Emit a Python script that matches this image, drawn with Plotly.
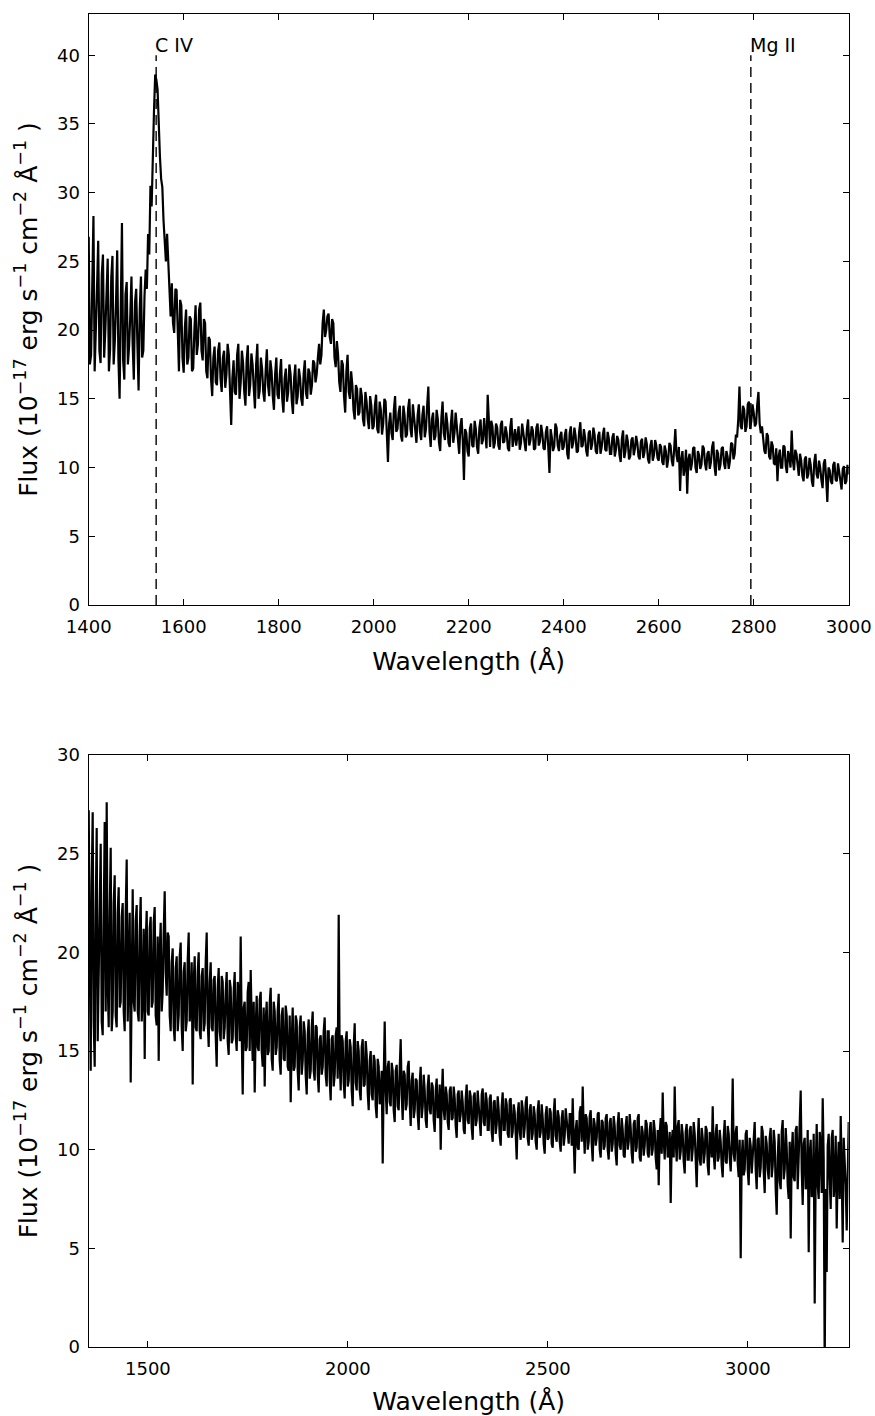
import numpy as np
import plotly.graph_objects as go

# ---------------- data ----------------
# Upper spectrum: flux sampled every 5 A from 1400 A (TOP_FLUX) and the
# samples lying half-way between them (TOP_FLUX_MID).
TOP_WAVE_START = 1400
TOP_WAVE_STEP = 2.5
TOP_FLUX = [
    26.8, 18.2, 28.3, 19.5, 26.5, 17.6, 25.5, 20.0, 25.2, 18.6, 25.4, 19.2, 25.8, 15.0, 27.8, 16.4, 23.5, 18.8, 23.9, 16.4,
    23.0, 15.6, 23.9, 18.5, 24.4, 27.0, 30.5, 33.8, 38.6, 37.5, 32.6, 30.4, 26.5, 27.0, 23.2, 23.4, 19.8, 22.9, 17.0, 21.8,
    16.9, 21.5, 18.0, 20.8, 17.2, 21.8, 19.0, 22.0, 17.8, 20.5, 16.5, 19.3, 15.2, 18.8, 16.0, 19.1, 15.5, 18.5, 16.8, 18.2,
    13.1, 17.8, 15.3, 19.0, 16.2, 17.6, 14.5, 18.9, 16.0, 17.5, 14.3, 19.0, 15.6, 17.2, 14.8, 18.6, 15.2, 17.0, 14.2, 18.0,
    15.0, 17.9, 14.0, 17.2, 15.5, 16.8, 13.9, 17.5, 15.2, 16.5, 14.5, 17.8, 15.0, 16.9, 16.0, 17.6, 16.8, 19.0, 18.2, 21.5,
    20.0, 21.2, 19.0, 20.5, 17.3, 18.2, 15.5, 17.5, 14.0, 18.2, 15.0, 16.0, 13.5, 15.7, 14.0, 15.2, 13.0, 14.8, 12.8, 14.5,
    13.0, 15.3, 12.5, 14.2, 13.2, 14.8, 10.4, 14.0, 12.0, 15.2, 12.8, 14.5, 11.9, 13.8, 12.4, 15.0, 12.2, 13.6, 11.8, 14.6,
    12.0, 14.5, 12.8, 15.9, 11.5, 14.0, 12.3, 13.5, 11.2, 14.8, 12.0, 13.2, 11.5, 14.2, 12.5, 13.0, 11.0, 13.6, 9.1, 12.5,
    10.8, 13.2, 11.5, 12.8, 11.0, 13.5, 12.0, 12.6, 15.3, 11.5, 13.0, 11.8, 12.9, 11.3, 13.4, 11.9, 12.5, 11.2, 13.6, 12.0,
    11.6, 13.0, 11.8, 12.4, 11.2, 13.5, 12.0, 12.7, 11.4, 13.2, 11.9, 12.5, 11.3, 13.0, 9.6, 12.2, 11.5, 12.9, 11.2, 12.6,
    11.5, 12.8, 10.6, 13.0, 11.8, 12.3, 11.2, 13.3, 11.6, 12.2, 10.8, 12.7, 11.7, 12.4, 11.0, 12.6, 11.5, 12.9, 11.2, 12.1,
    11.0, 12.5, 11.3, 12.0, 10.4, 12.7, 11.2, 11.9, 10.8, 12.2, 11.4, 11.8, 10.6, 12.1, 11.1, 11.7, 10.3, 12.0, 10.9, 11.6,
    10.5, 11.5, 10.2, 11.2, 10.6, 11.6, 10.1, 12.8, 10.4, 8.3, 11.2, 10.0, 8.1, 11.0, 10.3, 11.5, 9.6, 10.9, 10.2, 11.4,
    9.8, 11.2, 10.4, 11.9, 9.4, 11.0, 10.2, 11.5, 9.9, 10.8, 10.5, 11.7, 11.0, 12.2, 15.9, 12.8, 14.2, 13.0, 14.8, 13.4,
    14.0, 13.2, 15.5, 12.5, 12.0, 11.0, 12.3, 10.6, 11.6, 10.2, 9.0, 11.3, 10.0, 11.5, 9.6, 10.8, 12.7, 9.8, 11.0, 9.4,
    10.5, 9.0, 10.8, 9.5, 10.2, 8.6, 11.0, 9.2, 10.0, 8.5, 10.6, 7.5, 9.8, 8.8, 10.4, 9.0, 9.6, 8.4, 10.1, 9.0,
    9.5,
]
TOP_FLUX_MID = [
    17.5, 24.5, 17.0, 23.0, 18.5, 24.0, 18.0, 22.5, 17.0, 23.8, 17.5, 22.0, 18.0, 21.5, 17.8, 22.6, 17.5, 21.0, 19.0, 22.0,
    19.0, 21.5, 18.0, 22.5, 23.0, 25.5, 29.0, 36.0, 38.2, 34.5, 31.0, 28.0, 25.0, 24.5, 21.0, 20.5, 23.0, 19.0, 22.2, 18.0,
    20.2, 17.5, 21.0, 17.0, 20.0, 18.2, 21.5, 18.5, 20.8, 17.0, 19.5, 16.5, 18.0, 16.2, 18.5, 16.5, 18.0, 15.8, 19.0, 15.6,
    16.5, 15.5, 18.2, 15.0, 18.5, 15.5, 17.8, 15.2, 18.3, 15.8, 17.5, 15.0, 18.0, 15.5, 17.0, 16.0, 17.8, 15.2, 16.8, 15.3,
    16.8, 15.0, 16.5, 14.8, 17.5, 14.9, 16.5, 14.6, 17.2, 15.0, 16.8, 15.4, 17.2, 15.3, 17.8, 16.2, 18.0, 17.5, 20.5, 19.5,
    21.0, 19.5, 20.8, 18.0, 19.2, 16.2, 17.8, 15.2, 17.0, 15.5, 17.0, 14.2, 16.0, 13.8, 15.8, 13.5, 15.5, 13.5, 15.2, 12.8,
    14.5, 12.8, 14.8, 12.4, 15.0, 12.6, 13.2, 12.5, 14.2, 12.6, 14.0, 12.3, 14.5, 12.2, 14.3, 12.8, 14.6, 12.5, 13.8, 12.6,
    13.8, 12.2, 14.5, 12.6, 13.5, 12.0, 14.2, 11.8, 13.6, 12.5, 14.0, 11.8, 13.2, 11.8, 14.0, 11.6, 13.0, 12.0, 12.8, 11.2,
    12.8, 11.6, 13.4, 11.5, 12.9, 11.7, 13.6, 11.4, 12.8, 13.4, 11.4, 13.2, 11.6, 13.1, 11.8, 13.0, 11.4, 12.9, 11.5, 12.8,
    12.6, 11.3, 13.2, 11.5, 12.8, 11.6, 13.0, 11.3, 12.9, 11.6, 13.1, 11.4, 12.6, 11.5, 12.8, 11.2, 13.2, 11.6, 12.3, 11.3,
    12.4, 11.0, 12.5, 11.4, 12.9, 11.1, 12.6, 11.5, 12.8, 11.2, 12.5, 11.3, 12.9, 11.2, 12.3, 11.0, 12.4, 11.3, 12.6, 11.0,
    12.2, 10.8, 12.3, 10.9, 12.1, 10.7, 12.4, 10.6, 12.0, 10.9, 12.3, 10.8, 11.9, 10.7, 12.2, 10.6, 11.6, 10.5, 12.0, 10.7,
    11.7, 10.4, 11.6, 10.0, 11.8, 10.5, 11.3, 10.9, 11.5, 10.6, 9.4, 11.3, 10.6, 9.8, 11.4, 10.0, 11.2, 9.9, 11.6, 10.3,
    11.0, 9.9, 11.5, 10.1, 11.3, 9.8, 11.4, 10.3, 11.2, 9.9, 11.8, 10.6, 12.4, 13.5, 13.0, 14.5, 12.6, 14.6, 12.8, 14.6,
    13.0, 14.6, 13.2, 13.0, 11.2, 12.5, 10.8, 11.9, 10.3, 11.4, 10.8, 10.0, 11.6, 10.1, 11.2, 10.0, 10.5, 11.3, 9.9, 11.0,
    9.4, 10.6, 9.2, 10.7, 9.0, 10.4, 9.5, 10.5, 9.1, 10.3, 9.2, 10.0, 9.0, 10.2, 9.1, 10.3, 9.0, 9.9, 8.8, 10.2,
]

# Lower spectrum: flux every 5 A from 1352 A (BOT_FLUX) plus half-way samples.
BOT_WAVE_START = 1352
BOT_WAVE_STEP = 2.5
BOT_FLUX = [
    27.2, 14.0, 27.1, 14.2, 26.3, 19.0, 25.5, 15.8, 26.6, 27.6, 16.2, 25.3, 17.0, 23.9, 16.2, 23.3, 17.5, 22.5, 16.0, 24.7,
    18.5, 13.4, 23.2, 17.0, 22.4, 16.5, 22.8, 17.8, 14.6, 22.1, 16.8, 21.8, 17.5, 22.3, 16.3, 14.5, 21.5, 18.0, 23.1, 17.8,
    20.8, 16.0, 20.2, 15.5, 19.8, 16.8, 20.5, 15.0, 19.5, 16.5, 21.0, 17.2, 13.3, 19.8, 16.0, 20.0, 15.6, 19.2, 16.4, 21.0,
    15.2, 19.5, 16.0, 18.8, 14.2, 19.2, 15.5, 18.5, 16.2, 19.0, 14.8, 18.2, 15.6, 19.0, 15.0, 18.0, 20.8, 12.8, 17.5, 15.2,
    18.5, 19.1, 14.5, 12.9, 17.8, 15.0, 18.0, 14.2, 13.2, 17.5, 15.0, 18.2, 14.0, 17.0, 15.2, 17.9, 13.8, 17.2, 14.5, 16.8,
    14.0, 12.4, 17.2, 14.2, 16.5, 13.0, 16.8, 14.5, 16.0, 12.8, 16.6, 14.0, 17.0, 13.5, 16.2, 12.9, 15.8, 14.2, 16.7, 13.2,
    16.0, 12.5, 15.8, 13.8, 16.2, 21.9, 13.0, 15.5, 12.6, 16.0, 13.5, 15.2, 12.2, 16.4, 13.0, 15.0, 12.5, 15.6, 13.3, 14.8,
    12.0, 15.0, 12.5, 14.5, 11.6, 14.2, 12.8, 9.3, 16.5, 11.8, 14.5, 12.2, 14.0, 11.4, 14.3, 12.0, 15.6, 11.5, 13.8, 12.3,
    14.5, 11.2, 13.9, 12.0, 13.5, 11.0, 14.2, 12.2, 13.0, 11.1, 13.8, 11.8, 13.2, 10.9, 13.6, 11.7, 10.0, 14.1, 11.5, 12.8,
    11.0, 13.2, 11.6, 12.6, 10.6, 13.0, 11.8, 12.4, 10.8, 13.3, 11.3, 12.7, 10.5, 12.9, 11.5, 12.2, 10.7, 13.1, 11.2, 12.5,
    11.0, 12.8, 10.4, 12.5, 11.3, 12.0, 10.2, 12.9, 11.0, 12.3, 10.6, 12.6, 10.9, 11.9, 9.5, 12.4, 10.5, 12.1, 11.1, 12.7,
    10.2, 12.3, 10.8, 11.8, 10.0, 12.5, 10.9, 11.6, 9.8, 12.2, 10.6, 11.9, 10.1, 12.6, 10.4, 11.7, 9.9, 12.0, 10.7, 11.5,
    10.3, 11.8, 12.6, 8.8, 11.5, 10.0, 12.2, 13.2, 9.8, 11.6, 10.4, 12.0, 9.4, 11.3, 10.6, 11.9, 9.6, 11.4, 10.2, 11.8,
    9.5, 11.6, 10.3, 11.2, 9.2, 11.9, 10.0, 11.0, 9.6, 11.7, 10.4, 11.1, 9.3, 11.5, 10.1, 11.8, 9.4, 10.9, 10.2, 11.3,
    9.6, 11.4, 10.0, 11.0, 9.0, 8.2, 11.6, 12.9, 9.5, 11.2, 9.8, 7.3, 11.0, 13.2, 9.4, 11.5, 9.9, 10.8, 8.8, 11.3,
    9.5, 11.2, 10.0, 10.8, 8.1, 11.6, 9.2, 10.6, 9.8, 11.0, 8.7, 10.5, 12.2, 9.0, 11.3, 9.6, 10.4, 8.6, 11.5, 9.3,
    10.8, 8.9, 13.6, 9.4, 11.2, 8.6, 4.5, 10.5, 9.0, 11.0, 8.2, 10.2, 9.6, 11.4, 8.0, 10.6, 9.1, 10.9, 7.8, 10.3,
    8.5, 11.1, 9.2, 10.4, 6.7, 10.8, 8.0, 11.5, 9.0, 10.1, 7.5, 5.5, 10.9, 8.4, 11.2, 9.6, 13.0, 7.2, 10.6, 8.2,
    4.8, 10.5, 8.0, 2.2, 11.3, 7.5, 10.2, 12.6, -1.0, 3.8, 10.8, 7.0, 11.0, 8.3, 6.0, 10.4, 11.7, 5.3, 9.5, 5.9,
    11.4,
]
BOT_FLUX_MID = [
    18.0, 23.5, 16.5, 22.0, 15.5, 23.0, 16.5, 21.5, 17.0, 18.5, 22.0, 16.0, 22.5, 16.8, 22.0, 17.2, 21.8, 17.0, 22.0, 16.5,
    22.0, 19.5, 17.5, 21.6, 17.0, 21.0, 16.5, 21.2, 20.5, 17.0, 21.2, 17.2, 21.5, 16.8, 20.8, 20.0, 17.0, 21.0, 19.0, 21.0,
    16.8, 19.5, 16.2, 19.2, 16.0, 19.8, 16.2, 19.0, 16.0, 19.6, 16.5, 19.5, 18.5, 16.2, 19.0, 16.0, 18.8, 16.0, 19.5, 16.5,
    18.5, 16.2, 18.6, 15.8, 18.2, 16.0, 18.8, 15.6, 18.0, 15.5, 18.6, 15.4, 18.0, 15.8, 18.5, 15.5, 16.0, 17.2, 15.0, 18.0,
    15.0, 16.5, 17.5, 16.2, 15.2, 17.6, 15.0, 17.2, 16.5, 14.8, 17.4, 14.6, 17.5, 14.8, 17.0, 14.5, 16.8, 14.6, 17.3, 14.2,
    16.8, 15.5, 14.0, 16.8, 14.0, 16.2, 13.8, 16.5, 13.8, 15.8, 13.6, 16.2, 14.0, 16.3, 13.8, 15.6, 13.8, 16.0, 13.8, 16.0,
    13.5, 15.6, 13.2, 15.8, 13.6, 14.5, 15.8, 13.4, 15.5, 13.2, 15.6, 13.0, 15.2, 13.4, 15.5, 13.0, 15.2, 13.2, 15.5, 12.9,
    14.5, 12.8, 14.8, 12.2, 14.6, 12.3, 14.0, 13.6, 13.0, 14.2, 12.4, 14.4, 12.0, 14.0, 12.2, 14.1, 12.8, 14.0, 12.0, 14.2,
    12.4, 13.5, 11.6, 13.6, 11.8, 13.4, 11.6, 13.8, 11.5, 13.2, 12.0, 13.4, 11.5, 13.0, 11.6, 13.3, 12.6, 12.0, 13.2, 11.4,
    13.0, 11.5, 13.2, 11.2, 12.8, 11.4, 13.0, 11.0, 12.6, 11.5, 13.0, 11.1, 12.7, 11.2, 13.0, 11.0, 12.8, 11.4, 12.9, 11.0,
    12.6, 10.9, 12.4, 10.8, 12.7, 10.7, 12.2, 11.0, 12.6, 10.8, 12.5, 10.6, 12.3, 10.8, 11.8, 10.9, 12.5, 10.6, 12.4, 10.6,
    12.0, 10.5, 12.2, 10.4, 12.0, 10.6, 12.3, 10.3, 11.8, 10.5, 12.1, 10.3, 11.8, 10.7, 12.0, 10.4, 11.6, 10.2, 12.1, 10.5,
    11.8, 10.2, 10.5, 11.0, 10.1, 11.9, 10.4, 11.0, 11.8, 10.0, 11.7, 10.3, 11.6, 10.2, 11.8, 10.0, 11.5, 10.0, 11.6, 10.0,
    11.4, 9.9, 11.7, 9.8, 11.3, 10.2, 11.6, 9.7, 11.2, 10.0, 11.8, 9.8, 11.3, 9.9, 11.6, 9.6, 11.2, 9.7, 11.5, 9.8,
    11.0, 9.7, 11.5, 9.6, 11.0, 10.8, 9.8, 10.5, 11.4, 9.6, 10.9, 10.4, 9.6, 10.5, 11.2, 9.5, 11.3, 9.4, 10.9, 9.5,
    11.0, 9.4, 11.4, 9.5, 10.4, 9.5, 11.1, 9.3, 11.2, 9.2, 10.9, 9.6, 9.8, 10.8, 9.4, 11.0, 9.2, 10.6, 9.4, 11.2,
    9.6, 10.4, 9.8, 10.9, 9.3, 10.5, 9.6, 8.7, 10.8, 9.0, 10.6, 8.8, 11.0, 9.0, 10.5, 8.6, 11.2, 8.9, 10.7, 9.0,
    10.6, 8.6, 11.0, 8.0, 9.6, 8.4, 10.9, 8.5, 11.1, 8.2, 10.4, 9.8, 8.6, 11.0, 8.0, 10.8, 9.0, 10.3, 8.0, 11.0,
    9.8, 7.6, 10.8, 9.0, 8.2, 10.9, 7.8, 9.5, 8.0, 10.2, 8.5, 10.6, 7.6, 10.7, 9.0, 7.5, 8.8, 10.6, 8.2, 10.0,
]

LINE_NAMES = ["C IV", "Mg II"]
LINE_WAVES = [1542, 2794]
LINE_TOP = 40

TOP_XRANGE = [1400, 3000]
TOP_YRANGE = [0, 43]
TOP_XTICKS = [1400, 1600, 1800, 2000, 2200, 2400, 2600, 2800, 3000]
TOP_YTICKS = [0, 5, 10, 15, 20, 25, 30, 35, 40]

BOT_XRANGE = [1352, 3252]
BOT_YRANGE = [0, 30]
BOT_XTICKS = [1500, 2000, 2500, 3000]
BOT_YTICKS = [0, 5, 10, 15, 20, 25, 30]

X_LABEL = "Wavelength (Å)"
Y_LABEL = ("Flux (10<sup>−17</sup> erg s<sup>−1</sup> cm<sup>−2</sup> "
           "Å<sup>−1</sup> )\u00a0\u00a0")


def interleave(main, mid):
    out = []
    for a, b in zip(main, mid):
        out.extend([a, b])
    out.extend(main[len(mid):])
    return out


# ---------------- figure ----------------
W, H = 875, 1416
FONT = "DejaVu Sans"

top_flux = interleave(TOP_FLUX, TOP_FLUX_MID)
bot_flux = interleave(BOT_FLUX, BOT_FLUX_MID)
top_wave = TOP_WAVE_START + TOP_WAVE_STEP * np.arange(len(top_flux))
bot_wave = BOT_WAVE_START + BOT_WAVE_STEP * np.arange(len(bot_flux))

LW = 2.2

fig = go.Figure()
fig.add_trace(go.Scatter(x=top_wave, y=top_flux, mode="lines",
                         line=dict(color="black", width=LW),
                         xaxis="x", yaxis="y", showlegend=False, hoverinfo="skip"))
for name, w in zip(LINE_NAMES, LINE_WAVES):
    fig.add_trace(go.Scatter(x=[w, w], y=[0, LINE_TOP], mode="lines",
                             line=dict(color="black", width=1.4, dash="10px,6px"),
                             xaxis="x", yaxis="y", showlegend=False, hoverinfo="skip"))
    fig.add_annotation(x=w, y=LINE_TOP, xref="x", yref="y", text=name,
                       showarrow=False, xanchor="left", yanchor="bottom",
                       xshift=-3, yshift=-3,
                       font=dict(family=FONT, size=19, color="black"))

fig.add_trace(go.Scatter(x=bot_wave, y=bot_flux, mode="lines",
                         line=dict(color="black", width=LW),
                         xaxis="x2", yaxis="y2", showlegend=False, hoverinfo="skip"))

xdom = [88.7 / W, 848.7 / W]
top_dom = [1 - 605 / H, 1 - 14 / H]
bot_dom = [1 - 1347 / H, 1 - 755 / H]


def xaxis(rng, ticks, anchor):
    return dict(domain=xdom, range=rng, tickvals=ticks, anchor=anchor,
                automargin=False,
                showline=True, mirror="ticks", linecolor="black", linewidth=1.2,
                ticks="inside", ticklen=6, tickwidth=1, tickcolor="black",
                ticklabelstandoff=5,
                showgrid=False, zeroline=False,
                tickfont=dict(family=FONT, size=18, color="black"),
                title=dict(text=X_LABEL, standoff=16,
                           font=dict(family=FONT, size=25, color="black")))


def yaxis(rng, ticks, dom, anchor):
    return dict(domain=dom, range=rng, tickvals=ticks, anchor=anchor,
                automargin=False,
                showline=True, mirror="ticks", linecolor="black", linewidth=1.2,
                ticks="inside", ticklen=6, tickwidth=1, tickcolor="black",
                ticklabelstandoff=4,
                showgrid=False, zeroline=False,
                tickfont=dict(family=FONT, size=18, color="black"),
                title=dict(text=Y_LABEL, standoff=12,
                           font=dict(family=FONT, size=25, color="black")))


fig.update_layout(
    width=W, height=H,
    margin=dict(l=0, r=0, t=0, b=0, pad=0, autoexpand=False),
    paper_bgcolor="white", plot_bgcolor="white",
    font=dict(family=FONT, color="black"),
    hovermode=False,
    xaxis=xaxis(TOP_XRANGE, TOP_XTICKS, "y"),
    yaxis=yaxis(TOP_YRANGE, TOP_YTICKS, top_dom, "x"),
    xaxis2=xaxis(BOT_XRANGE, BOT_XTICKS, "y2"),
    yaxis2=yaxis(BOT_YRANGE, BOT_YTICKS, bot_dom, "x2"),
)

# remove the browser's default 8px page margin so the figure fills the window
fig.write_html("out.html",
               config={"displayModeBar": False, "staticPlot": True},
               post_script="document.body.style.margin='0px';"
                           "document.body.style.overflow='hidden';")
